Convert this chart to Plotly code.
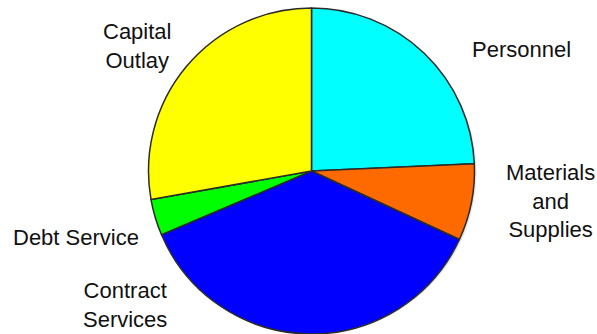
import plotly.graph_objects as go

# Budget share by expenditure category (percent of total)
categories = ["Personnel", "Materials and Supplies", "Contract Services",
              "Debt Service", "Capital Outlay"]
shares = [24.3, 7.6, 36.7, 3.6, 27.8]
slice_colors = ["#00FFFF", "#FF6A00", "#0000FF", "#00FF00", "#FFFF00"]

# Label text (line breaks as drawn)
label_text = ["Personnel", "Materials<br>and<br>Supplies", "Contract<br>Services",
              "Debt Service", "Capital<br>Outlay"]

W, H = 597, 334

fig = go.Figure()

# soft drop shadow beneath the pie
fig.add_trace(go.Pie(
    values=[sum(shares)],
    marker=dict(colors=["rgba(0,0,0,0.10)"], line=dict(width=0)),
    textinfo="none", hoverinfo="skip", showlegend=False, sort=False,
    domain=dict(x=[151.5 / W, 478.5 / W], y=[0, 1 - 11 / H]),
))

fig.add_trace(go.Pie(
    labels=categories,
    values=shares,
    sort=False,
    direction="clockwise",
    rotation=0,
    marker=dict(colors=slice_colors, line=dict(color="#2b2b2b", width=1.5)),
    textinfo="none",
    showlegend=False,
    domain=dict(x=[148.5 / W, 474.5 / W], y=[0, 1 - 8 / H]),
))

# outside labels: (center x px, center y px, alignment)
label_pos = [
    (521, 49, "center"),
    (550, 201, "center"),
    (125, 305, "center"),
    (76, 237, "left"),
    (137, 46, "center"),
]

for txt, (px, py, al) in zip(label_text, label_pos):
    fig.add_annotation(
        x=px / W, y=1 - py / H, xref="paper", yref="paper",
        text=txt, showarrow=False, align="center",
        xanchor="center", yanchor="middle",
        font=dict(family="Liberation Sans, Arial, sans-serif", size=22, color="#111111"),
    )

fig.update_layout(
    width=W, height=H,
    margin=dict(l=0, r=0, t=0, b=0),
    paper_bgcolor="white", plot_bgcolor="white",
)

fig.write_html("out.html")
